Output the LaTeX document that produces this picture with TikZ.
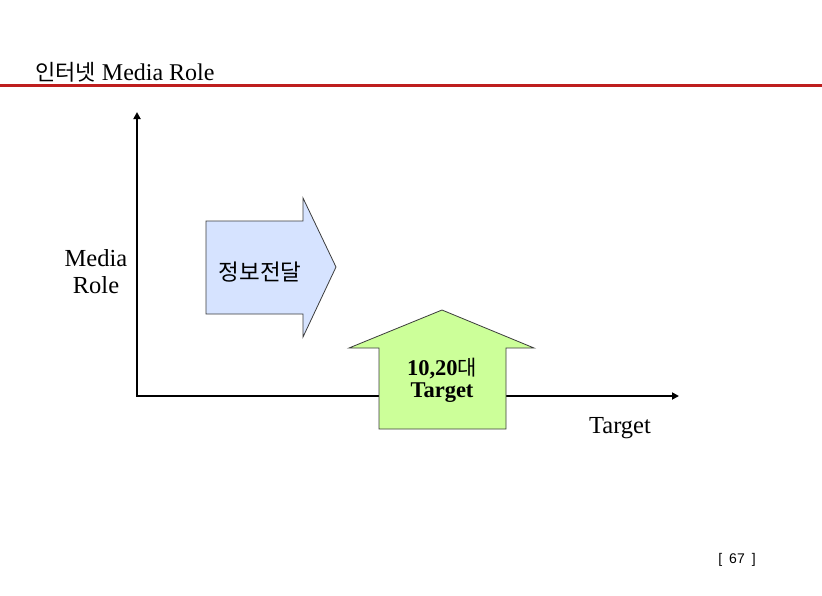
\documentclass[tikz,border=0pt]{standalone}
\usepackage{fontspec}
\setmainfont{Liberation Serif}
\newfontfamily\kr{Noto Sans CJK KR}
\newfontfamily\pgnum{Liberation Sans}
\usetikzlibrary{arrows.meta}
\definecolor{titlered}{RGB}{190,30,30}
\definecolor{bluefill}{RGB}{214,227,255}
\definecolor{greenfill}{RGB}{204,255,153}
\definecolor{edgegray}{RGB}{60,60,60}
\tikzset{
  redrule/.style={titlered,line width=3pt},
  axisline/.style={black,line width=2.8pt,{Triangle[length=7pt,width=7pt]}-{Triangle[length=7pt,width=7pt]}},
  blockarrow/.style={draw=edgegray,line width=0.8pt,line join=miter},
  lbl/.style={inner sep=0pt,font=\fontsize{24.5}{27}\selectfont},
  inlbl/.style={anchor=base,inner sep=0pt,font=\bfseries\fontsize{22.5}{24}\selectfont},
}
\begin{document}
\begin{tikzpicture}[x=1pt,y=-1pt]
\useasboundingbox (0,0) rectangle (822,595);
\fill[white] (0,0) rectangle (822,595);
% title and rule
\node[anchor=base west,inner sep=0pt,font=\fontsize{24}{26}\selectfont] (title) at (35,80) {{\kr\fontsize{22}{25}\selectfont 인터넷} Media Role};
\coordinate (ruleL) at (0,85);
\coordinate (ruleR) at (822,85);
\draw[redrule] (ruleL) -- (ruleR);
% axes
\coordinate (O) at (137,396);
\coordinate (Ytop) at (137,112);
\coordinate (Xend) at (679,396);
\draw[axisline] (Ytop) -- (O) -- (Xend);
% axis labels
\node[lbl,anchor=base] (media) at (96,266) {Media};
\node[lbl,anchor=base] (role) at (96,293) {Role};
\node[lbl,anchor=base] (target) at (620,433) {Target};
% blue block arrow
\draw[blockarrow,fill=bluefill] (206,221) -- (303,221) -- (303,198) -- (336,267) -- (303,337) -- (303,314) -- (206,314) -- cycle;
\node[inner sep=0pt,font=\kr\fontsize{22.5}{24}\selectfont] (info) at (260,272) {정보전달};
% green block arrow
\draw[blockarrow,fill=greenfill] (379,429) -- (379,348) -- (349,348) -- (442,310) -- (534,348) -- (506,348) -- (506,429) -- cycle;
\node[inlbl] (age) at (442,375) {10,20{\kr\mdseries\fontsize{21}{24}\selectfont 대}};
\node[inlbl] (tg) at (442,397) {Target};
% page number
\node[inner sep=0pt,font=\pgnum\fontsize{14}{15}\selectfont] (page) at (737,560) {[\hspace{7pt}67\hspace{7pt}]};
\end{tikzpicture}
\end{document}
